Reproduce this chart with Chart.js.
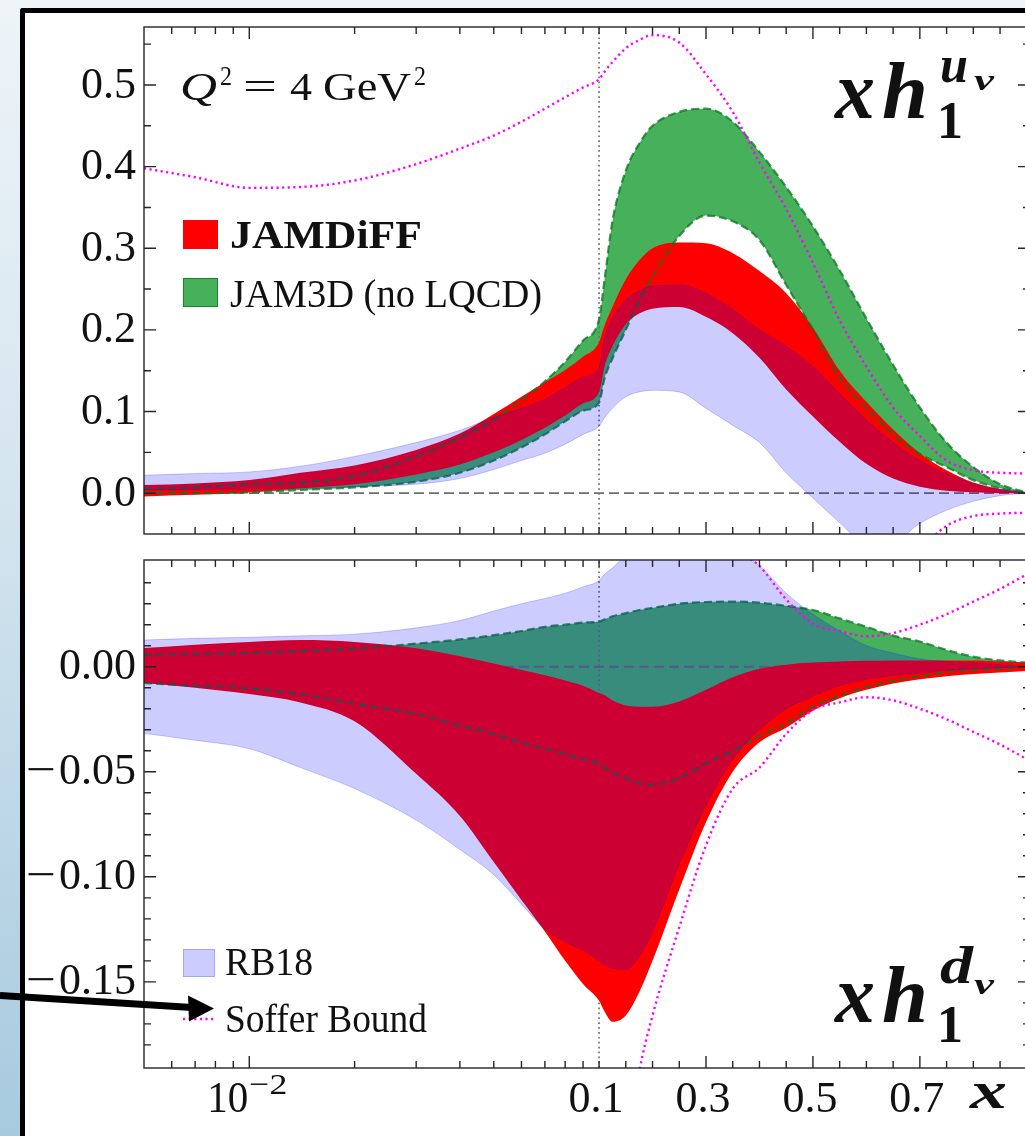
<!DOCTYPE html>
<html>
<head>
<meta charset="utf-8">
<script src="https://cdn.jsdelivr.net/npm/chart.js@4.4.1/dist/chart.umd.min.js"></script>
<style>
  html, body { margin: 0; padding: 0; }
  body {
    width: 1025px; height: 1136px; overflow: hidden; position: relative;
    background: linear-gradient(180deg, #eef4f8 0%, #d3e4ee 45%, #a7cadf 100%);
  }
  #card {
    position: absolute; left: 20px; top: 8px; width: 1100px; height: 1200px;
    background: #fff; border-top: 5px solid #000; border-left: 5px solid #000;
    border-top-left-radius: 3px;
  }
  canvas { position: absolute; left: 0; top: 0; }
</style>
</head>
<body>
<div id="card"></div>
<canvas id="panelU" width="1100" height="1136"></canvas>
<canvas id="panelD" width="1100" height="1136"></canvas>
<script>
const SERIF = '"Liberation Serif", "DejaVu Serif", serif';

// ---- momentum-fraction grid shared by all curves ----
const xGrid = [0.005, 0.007, 0.01, 0.014, 0.02, 0.03, 0.04, 0.05, 0.06, 0.07, 0.08, 0.09, 0.1,
               0.11, 0.125, 0.15, 0.175, 0.2, 0.25, 0.3, 0.35, 0.4, 0.45, 0.5, 0.55, 0.6,
               0.65, 0.7, 0.75, 0.8, 0.85, 0.9];

// ---- x h1 for u valence ----
const jamdiffHiU = [0.010, 0.012, 0.016, 0.025, 0.034, 0.053, 0.073, 0.097, 0.118, 0.136, 0.151, 0.167, 0.185,
                    0.205, 0.228, 0.262, 0.285, 0.300, 0.307, 0.306, 0.294, 0.272, 0.245, 0.203, 0.150, 0.112,
                    0.078, 0.049, 0.028, 0.013, 0.005, 0.001];
const jamdiffLoU = [-0.004, -0.002, 0.001, 0.006, 0.011, 0.023, 0.035, 0.050, 0.065, 0.080, 0.095, 0.110, 0.124,
                    0.155, 0.180, 0.207, 0.220, 0.226, 0.228, 0.216, 0.196, 0.166, 0.127, 0.094, 0.063, 0.036,
                    0.018, 0.008, 0.003, 0.001, 0.0, 0.0];
const jam3dHiU   = [0.005, 0.007, 0.011, 0.013, 0.021, 0.045, 0.068, 0.090, 0.114, 0.137, 0.161, 0.187, 0.213,
                    0.260, 0.333, 0.395, 0.428, 0.450, 0.467, 0.471, 0.455, 0.418, 0.375, 0.327, 0.273, 0.214,
                    0.157, 0.105, 0.062, 0.032, 0.011, 0.001];
const jam3dLoU   = [0.0, 0.0, 0.001, 0.004, 0.007, 0.014, 0.025, 0.040, 0.056, 0.072, 0.088, 0.101, 0.111,
                    0.140, 0.165, 0.200, 0.235, 0.265, 0.315, 0.340, 0.333, 0.310, 0.255, 0.200, 0.142, 0.105,
                    0.072, 0.048, 0.032, 0.016, 0.006, 0.0];
const rb18HiU    = [0.022, 0.024, 0.026, 0.033, 0.045, 0.062, 0.077, 0.093, 0.104, 0.115, 0.129, 0.142, 0.154,
                    0.190, 0.215, 0.237, 0.248, 0.254, 0.255, 0.245, 0.225, 0.200, 0.180, 0.155, 0.122, 0.090,
                    0.062, 0.040, 0.024, 0.012, 0.005, 0.0];
const rb18LoU    = [0.004, 0.004, 0.005, 0.006, 0.008, 0.011, 0.018, 0.029, 0.040, 0.049, 0.060, 0.072, 0.082,
                    0.092, 0.104, 0.118, 0.124, 0.126, 0.124, 0.104, 0.083, 0.062, 0.025, -0.006, -0.036, -0.062,
                    -0.060, -0.037, -0.021, -0.010, -0.003, 0.0];
const sofferU    = [0.398, 0.387, 0.374, 0.375, 0.383, 0.403, 0.422, 0.438, 0.455, 0.471, 0.485, 0.497, 0.507,
                    0.516, 0.528, 0.545, 0.555, 0.561, 0.552, 0.513, 0.467, 0.405, 0.348, 0.282, 0.212, 0.155,
                    0.105, 0.070, 0.040, 0.028, 0.025, 0.024];

// ---- x h1 for d valence ----
const jamdiffHiD = [0.0089, 0.0105, 0.0118, 0.0127, 0.0118, 0.0088, 0.005, 0.0015, -0.0015, -0.004, -0.0065, -0.009, -0.0125,
                    -0.0135, -0.016, -0.0185, -0.019, -0.019, -0.0165, -0.011, -0.005, -0.001, 0.001, 0.002, 0.0025, 0.0028,
                    0.003, 0.003, 0.003, 0.003, 0.0025, 0.002];
const jamdiffLoD = [-0.0078, -0.010, -0.013, -0.017, -0.026, -0.051, -0.071, -0.093, -0.111, -0.126, -0.140, -0.151, -0.159,
                    -0.164, -0.169, -0.166, -0.155, -0.140, -0.106, -0.074, -0.050, -0.036, -0.029, -0.021, -0.015, -0.011,
                    -0.008, -0.006, -0.0045, -0.0035, -0.0028, -0.002];
const jam3dHiD   = [0.0056, 0.006, 0.0065, 0.0075, 0.0085, 0.011, 0.013, 0.015, 0.017, 0.019, 0.020, 0.021, 0.0215,
                    0.0225, 0.024, 0.0255, 0.027, 0.028, 0.030, 0.0308, 0.031, 0.0305, 0.029, 0.027, 0.023, 0.019,
                    0.0148, 0.012, 0.008, 0.0048, 0.003, 0.002];
const jam3dLoD   = [-0.0078, -0.009, -0.0103, -0.013, -0.0175, -0.0225, -0.028, -0.032, -0.036, -0.039, -0.0415, -0.044, -0.046,
                    -0.048, -0.050, -0.053, -0.0555, -0.056, -0.053, -0.046, -0.040, -0.033, -0.027, -0.019, -0.014, -0.0098,
                    -0.0068, -0.0045, -0.0025, -0.0015, -0.0008, 0.0];
const rb18HiD    = [0.0127, 0.0135, 0.014, 0.0147, 0.0155, 0.0185, 0.022, 0.0265, 0.030, 0.0325, 0.035, 0.038, 0.041,
                    0.044, 0.047, 0.053, 0.058, 0.062, 0.064, 0.062, 0.056, 0.048, 0.035, 0.025, 0.017, 0.010,
                    0.0065, 0.0037, 0.0025, 0.0018, 0.001, 0.0];
const rb18LoD    = [-0.0317, -0.035, -0.039, -0.048, -0.058, -0.073, -0.087, -0.099, -0.113, -0.125, -0.131, -0.135, -0.140,
                    -0.142, -0.1435, -0.144, -0.138, -0.126, -0.094, -0.066, -0.044, -0.030, -0.020, -0.014, -0.009, -0.006,
                    -0.0042, -0.003, -0.0017, -0.001, -0.0005, 0.0];
const sofferD    = [null, null, null, null, null, null, null, null, null, null, null, null, null,
                    null, 0.30, 0.235, 0.193, 0.166, 0.124, 0.085, 0.058, 0.048, 0.032, 0.0205, 0.017, 0.0145,
                    0.016, 0.020, 0.025, 0.031, 0.037, 0.044];

// ---- axes ----
const X_MIN = 0.005, X_MAX = 0.906, X_SPLIT = 0.1;
const LIN_DECADES = 1.5286;           // decades spanned by one unit of x on the linear side
const xMajorTicks = [0.01, 0.3, 0.5, 0.7];
const xMinorTicks = [0.006, 0.007, 0.008, 0.009, 0.02, 0.03, 0.04, 0.05, 0.06, 0.07, 0.08, 0.09, 0.1,
                     0.15, 0.2, 0.25, 0.35, 0.4, 0.45, 0.55, 0.6, 0.65, 0.75, 0.8, 0.85, 0.9];
const xLabelValues = [0.1, 0.3, 0.5, 0.7];
const xLabelText = ['0.1', '0.3', '0.5', '0.7'];

const yRangeU = [-0.05, 0.571];
const yMajorU = [0, 0.1, 0.2, 0.3, 0.4, 0.5];
const yLabelU = ['0.0', '0.1', '0.2', '0.3', '0.4', '0.5'];
const yMinorU = [0.05, 0.15, 0.25, 0.35, 0.45, 0.55];

const yRangeD = [-0.191, 0.0508];
const yMajorD = [0, -0.05, -0.10, -0.15];
const yLabelD = ['0.00', '\u22120.05', '\u22120.10', '\u22120.15'];
const yMinorD = [0.04, 0.03, 0.02, 0.01, -0.01, -0.02, -0.03, -0.04, -0.06, -0.07, -0.08, -0.09,
                 -0.11, -0.12, -0.13, -0.14, -0.16, -0.17, -0.18];

const zeroLine = [0, 0];

// ---- log axis below X_SPLIT, linear above it ----
function warp(x) {
  return x < X_SPLIT ? Math.log10(x) : Math.log10(X_SPLIT) + (x - X_SPLIT) * LIN_DECADES;
}
function unwarp(u) {
  const us = Math.log10(X_SPLIT);
  return u < us ? Math.pow(10, u) : X_SPLIT + (u - us) / LIN_DECADES;
}
class LogLinearScale extends Chart.Scale {
  static id = 'loglinear';
  static defaults = {};
  parse(raw) { return raw === null || raw === undefined ? null : +raw; }
  determineDataLimits() { this.min = this.options.min; this.max = this.options.max; }
  buildTicks() { return xMajorTicks.concat(xMinorTicks).sort((a, b) => a - b).map(v => ({ value: v })); }
  configure() {
    super.configure();
    this._u0 = warp(this.min);
    this._u1 = warp(this.max);
  }
  getPixelForValue(v) {
    return this.getPixelForDecimal((warp(v) - this._u0) / (this._u1 - this._u0));
  }
  getValueForPixel(p) {
    return unwarp(this._u0 + this.getDecimalForPixel(p) * (this._u1 - this._u0));
  }
}
Chart.register(LogLinearScale);

// ---- styles ----
const GREEN = '#46b05a';
const GREEN_EDGE = 'rgba(10,115,35,0.75)';
const RED = '#ff0000';
const BLUE = 'rgba(0,0,255,0.2)';
const BLUE_EDGE = 'rgba(0,0,255,0.2)';
const MAGENTA = '#ff00ff';

const pts = arr => xGrid.map((x, i) => ({ x, y: arr[i] }));

function boundary(arr, order, color, width) {
  return { data: pts(arr), borderColor: color || 'transparent', borderWidth: width || 0,
           pointRadius: 0, fill: false, order, clip: 0 };
}
function filledTo(arr, fillColor, order, color, width) {
  return { data: pts(arr), backgroundColor: fillColor, borderColor: color || 'transparent',
           borderWidth: width || 0, pointRadius: 0, fill: '-1', order, clip: 0 };
}
function dashed(arr, color, width, dash, order) {
  return { data: pts(arr), borderColor: color, borderWidth: width, borderDash: dash,
           pointRadius: 0, fill: false, order, clip: 0 };
}
function straight(data, color, width, dash, order) {
  return { data, borderColor: color, borderWidth: width, borderDash: dash, pointRadius: 0,
           fill: false, order, clip: 0, tension: 0, cubicInterpolationMode: 'default' };
}

function panelDatasets(p, yRange) {
  return [
    boundary(p.jam3dLo, 10),
    filledTo(p.jam3dHi, GREEN, 10),
    straight([{ x: X_MIN, y: zeroLine[0] }, { x: X_MAX, y: zeroLine[1] }], '#6e6e6e', 1.8, [10, 5], 9),
    straight([{ x: X_SPLIT, y: yRange[0] }, { x: X_SPLIT, y: yRange[1] }], '#707070', 1.7, [1.7, 3.2], 8),
    boundary(p.jamdiffLo, 7),
    filledTo(p.jamdiffHi, RED, 7),
    dashed(p.jam3dHi, GREEN_EDGE, 2.2, [8, 4], 6),
    dashed(p.jam3dLo, GREEN_EDGE, 2.2, [8, 4], 6),
    boundary(p.rb18Lo, 5, BLUE_EDGE, 1),
    filledTo(p.rb18Hi, BLUE, 5, BLUE_EDGE, 1),
    { data: pts(p.soffer), borderColor: MAGENTA, borderWidth: 2.4, borderDash: [2.2, 3.4],
      pointRadius: 0, fill: false, order: 4, clip: 0, spanGaps: false },
    { data: pts(p.soffer.map(v => v === null ? null : -v)), borderColor: MAGENTA, borderWidth: 2.4,
      borderDash: [2.2, 3.4], pointRadius: 0, fill: false, order: 4, clip: 0, spanGaps: false }
  ];
}

// ---- text helpers ----
function fitText(ctx, str, x, y, font, width, baseline) {
  ctx.save();
  ctx.font = font;
  ctx.fillStyle = '#111';
  ctx.textAlign = 'left';
  ctx.textBaseline = baseline || 'alphabetic';
  const w = ctx.measureText(str).width;
  const s = width ? width / w : 1;
  ctx.translate(x, y);
  ctx.scale(s, 1);
  ctx.fillText(str, 0, 0);
  ctx.restore();
}

function drawFrame(chart, yMajor, yMinor) {
  const { ctx, chartArea: a } = chart;
  const xs = chart.scales.x, ys = chart.scales.y;
  ctx.save();
  ctx.strokeStyle = '#262626';
  ctx.lineWidth = 1.4;
  ctx.beginPath();
  const tickX = (v, len) => {
    const p = xs.getPixelForValue(v);
    ctx.moveTo(p, a.top); ctx.lineTo(p, a.top + len);
    ctx.moveTo(p, a.bottom); ctx.lineTo(p, a.bottom - len);
  };
  const tickY = (v, len) => {
    const p = ys.getPixelForValue(v);
    ctx.moveTo(a.left, p); ctx.lineTo(a.left + len, p);
    ctx.moveTo(a.right, p); ctx.lineTo(a.right - len, p);
  };
  xMajorTicks.forEach(v => tickX(v, 12));
  xMinorTicks.forEach(v => tickX(v, 7));
  yMajor.forEach(v => tickY(v, 12));
  yMinor.forEach(v => tickY(v, 7));
  ctx.stroke();
  ctx.strokeRect(a.left, a.top, a.right - a.left, a.bottom - a.top);
  ctx.restore();
}

function drawYLabels(chart, values, labels) {
  const { ctx, chartArea: a } = chart;
  const ys = chart.scales.y;
  ctx.save();
  ctx.font = `44px ${SERIF}`;
  ctx.fillStyle = '#111';
  ctx.textAlign = 'right';
  ctx.textBaseline = 'middle';
  values.forEach((v, i) => {
    const p = ys.getPixelForValue(v) + 1;
    let s = labels[i];
    if (s.charAt(0) === '\u2212') {
      s = s.slice(1);
      const w = ctx.measureText(s).width;
      fitText(ctx, '\u2212', a.left - 8 - w - 33, p, `44px ${SERIF}`, 30, 'middle');
    }
    ctx.fillText(s, a.left - 8, p);
  });
  ctx.restore();
}

function drawPdfLabel(ctx, base, sup, supWidth, supDrop) {
  fitText(ctx, 'x', 835, base, `bold italic 82px ${SERIF}`, 40);
  fitText(ctx, 'h', 882, base, `bold italic 80px ${SERIF}`, 46);
  fitText(ctx, '1', 937, base + 20, `bold 52px ${SERIF}`, 26);
  fitText(ctx, sup, 940, base - supDrop, `bold italic 52px ${SERIF}`, supWidth);
  fitText(ctx, 'v', 974, base - 28, `bold italic 30px ${SERIF}`, 20);
}

const decorU = {
  id: 'decorU',
  afterDraw(chart) {
    const ctx = chart.ctx;
    drawFrame(chart, yMajorU, yMinorU);
    drawYLabels(chart, yMajorU, yLabelU);
    // Q^2 annotation
    fitText(ctx, 'Q', 180, 100, `italic 40px ${SERIF}`, 37);
    fitText(ctx, '2', 220, 85, `28px ${SERIF}`, 12);
    fitText(ctx, '=', 243, 100, `40px ${SERIF}`, 34);
    fitText(ctx, '4', 290, 100, `40px ${SERIF}`, 22);
    fitText(ctx, 'GeV', 323, 100, `40px ${SERIF}`, 88);
    fitText(ctx, '2', 414, 85, `28px ${SERIF}`, 12);
    // legend
    ctx.save();
    ctx.fillStyle = RED;
    ctx.fillRect(183, 220, 35, 29);
    ctx.fillStyle = GREEN;
    ctx.fillRect(183, 278, 35, 29);
    ctx.strokeStyle = 'rgba(20,130,40,0.9)';
    ctx.lineWidth = 1;
    ctx.strokeRect(183.5, 278.5, 34, 28);
    ctx.restore();
    fitText(ctx, 'JAMDiFF', 230, 248, `bold 40px ${SERIF}`, 192);
    fitText(ctx, 'JAM3D (no LQCD)', 230, 307, `40px ${SERIF}`, 312);
    drawPdfLabel(ctx, 118, 'u', 28, 36);
  }
};

const decorD = {
  id: 'decorD',
  afterDraw(chart) {
    const ctx = chart.ctx;
    const { chartArea: a } = chart;
    const xs = chart.scales.x;
    drawFrame(chart, yMajorD, yMinorD);
    drawYLabels(chart, yMajorD, yLabelD);
    // x tick labels
    ctx.save();
    ctx.font = `44px ${SERIF}`;
    ctx.fillStyle = '#111';
    ctx.textAlign = 'center';
    ctx.textBaseline = 'alphabetic';
    xLabelValues.forEach((v, i) => ctx.fillText(xLabelText[i], xs.getPixelForValue(v) - 3, a.bottom + 44));
    ctx.restore();
    const p2 = xs.getPixelForValue(0.01);
    fitText(ctx, '10', p2 - 42, a.bottom + 44, `44px ${SERIF}`, 41);
    fitText(ctx, '\u22122', p2, a.bottom + 26, `30px ${SERIF}`, 38);
    fitText(ctx, 'x', 970, a.bottom + 40, `bold italic 52px ${SERIF}`, 37);
    // legend
    ctx.save();
    ctx.fillStyle = BLUE;
    ctx.fillRect(183, 949, 32, 28);
    ctx.strokeStyle = BLUE_EDGE;
    ctx.lineWidth = 1;
    ctx.strokeRect(183.5, 949.5, 31, 27);
    ctx.strokeStyle = MAGENTA;
    ctx.lineWidth = 2.4;
    ctx.setLineDash([2.2, 3.4]);
    ctx.beginPath();
    ctx.moveTo(183, 1019);
    ctx.lineTo(214, 1019);
    ctx.stroke();
    ctx.restore();
    fitText(ctx, 'RB18', 225, 975, `39px ${SERIF}`, 88);
    fitText(ctx, 'Soffer Bound', 225, 1032, `39px ${SERIF}`, 202);
    drawPdfLabel(ctx, 1022, 'd', 33, 39);
    // pointer arrow
    ctx.save();
    ctx.strokeStyle = '#000';
    ctx.fillStyle = '#000';
    ctx.lineWidth = 7;
    ctx.beginPath();
    ctx.moveTo(0, 995.5);
    ctx.lineTo(192, 1007.5);
    ctx.stroke();
    ctx.beginPath();
    ctx.moveTo(214, 1008.5);
    ctx.lineTo(188, 995.5);
    ctx.lineTo(189, 1021.5);
    ctx.closePath();
    ctx.fill();
    ctx.restore();
  }
};

function makePanel(canvasId, padding, yRange, curves, decor) {
  return new Chart(document.getElementById(canvasId), {
    type: 'line',
    data: { datasets: panelDatasets(curves, yRange) },
    options: {
      responsive: false,
      animation: false,
      events: [],
      layout: { padding },
      elements: { point: { radius: 0 }, line: { cubicInterpolationMode: 'monotone' } },
      plugins: { legend: { display: false }, tooltip: { enabled: false }, filler: { propagate: false } },
      scales: {
        x: { type: 'loglinear', min: X_MIN, max: X_MAX, display: false },
        y: { type: 'linear', min: yRange[0], max: yRange[1], display: false }
      }
    },
    plugins: [decor]
  });
}

makePanel('panelU', { left: 144, top: 27, right: 70, bottom: 602 }, yRangeU, {
  jam3dHi: jam3dHiU, jam3dLo: jam3dLoU, jamdiffHi: jamdiffHiU, jamdiffLo: jamdiffLoU,
  rb18Hi: rb18HiU, rb18Lo: rb18LoU, soffer: sofferU
}, decorU);

makePanel('panelD', { left: 144, top: 560, right: 70, bottom: 68 }, yRangeD, {
  jam3dHi: jam3dHiD, jam3dLo: jam3dLoD, jamdiffHi: jamdiffHiD, jamdiffLo: jamdiffLoD,
  rb18Hi: rb18HiD, rb18Lo: rb18LoD, soffer: sofferD
}, decorD);
</script>
</body>
</html>
